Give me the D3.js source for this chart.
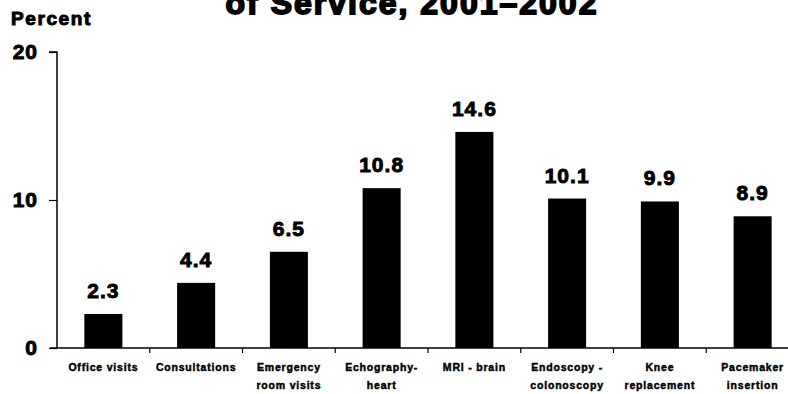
<!DOCTYPE html>
<html>
<head>
<meta charset="utf-8">
<script src="https://cdn.jsdelivr.net/npm/d3@7"></script>
<style>
  body { margin: 0; background: #fff; }
  svg { display: block; }
  text { font-family: "Liberation Sans", Arial, sans-serif; font-weight: bold; fill: #000; }
</style>
</head>
<body>
<script>
// Percent change by type of service
const categories = [
  ["Office visits"],
  ["Consultations"],
  ["Emergency", "room visits"],
  ["Echography-", "heart"],
  ["MRI - brain"],
  ["Endoscopy -", "colonoscopy"],
  ["Knee", "replacement"],
  ["Pacemaker", "insertion"]
];
const values = [2.3, 4.4, 6.5, 10.8, 14.6, 10.1, 9.9, 8.9];
const yTicks = [0, 10, 20];
const titleText = "of Service, 2001\u20132002";
const yLabel = "Percent";

const W = 788, H = 394;
const svg = d3.select("body").append("svg").attr("width", W).attr("height", H);

const x = d3.scaleBand()
  .domain(d3.range(categories.length))
  .range([57, 799])
  .paddingInner(0.59)
  .paddingOuter(0.295);
const y = d3.scaleLinear().domain([0, 20]).range([348, 52]);

// Title (continuation line)
svg.append("text")
  .attr("x", 412).attr("y", 14)
  .attr("text-anchor", "middle")
  .style("font-size", "32px")
  .style("letter-spacing", "2px")
  .style("stroke", "#000").style("stroke-width", "1.8px")
  .text(titleText);

svg.append("text")
  .attr("x", 11).attr("y", 25)
  .style("font-size", "19px")
  .style("letter-spacing", "1.6px")
  .style("stroke", "#000").style("stroke-width", "1px")
  .text(yLabel);

// Y axis
const yAxis = svg.append("g")
  .attr("transform", "translate(57,0)")
  .call(d3.axisLeft(y).tickValues(yTicks).tickSize(8).tickPadding(11).tickFormat(d3.format("d")));
yAxis.select(".domain").attr("d", `M-8,${y(20)}H0V${y(0)}`).attr("stroke", "#000").attr("stroke-width", 1.5);
yAxis.selectAll(".tick line").attr("stroke", "#000").attr("stroke-width", 1.2);
yAxis.selectAll(".tick text")
  .style("font-size", "21px")
  .style("letter-spacing", "1px")
  .style("font-family", "'Liberation Sans', Arial, sans-serif")
  .style("stroke", "#000").style("stroke-width", "0.9px");

// X axis with ticks between categories
const xAxisG = svg.append("g").attr("transform", `translate(0,${y(0)})`);
xAxisG.append("line")
  .attr("x1", 50).attr("x2", W)
  .attr("y1", 0).attr("y2", 0)
  .attr("stroke", "#000").attr("stroke-width", 1.5);
const step = x.step();
xAxisG.selectAll("line.tk").data(d3.range(1, categories.length)).join("line")
  .attr("class", "tk")
  .attr("x1", i => x(i) + x.bandwidth() / 2 - step / 2)
  .attr("x2", i => x(i) + x.bandwidth() / 2 - step / 2)
  .attr("y1", 0).attr("y2", 5)
  .attr("stroke", "#000").attr("stroke-width", 1.2);

// Bars
svg.selectAll("rect.bar").data(values).join("rect")
  .attr("class", "bar")
  .attr("x", (d, i) => x(i))
  .attr("width", x.bandwidth())
  .attr("y", d => y(d))
  .attr("height", d => y(0) - y(d))
  .attr("fill", "#000");

// Value labels
svg.selectAll("text.val").data(values).join("text")
  .attr("class", "val")
  .attr("x", (d, i) => x(i) + x.bandwidth() / 2)
  .attr("y", d => y(d) - 16)
  .attr("text-anchor", "middle")
  .style("font-size", "21px")
  .style("letter-spacing", "1px")
  .style("stroke", "#000").style("stroke-width", "0.9px")
  .text(d => d3.format(".1f")(d));

// Category labels
const cat = svg.selectAll("text.cat").data(categories).join("text")
  .attr("class", "cat")
  .attr("text-anchor", "middle")
  .attr("transform", (d, i) => `translate(${x(i) + x.bandwidth() / 2},${y(0) + 23})`)
  .style("font-size", "10.5px")
  .style("stroke", "#000").style("stroke-width", "0.45px")
  .style("letter-spacing", "0.8px");
cat.selectAll("tspan").data(d => d).join("tspan")
  .attr("x", 0)
  .attr("dy", (d, j) => j === 0 ? 0 : 18)
  .text(d => d);
</script>
</body>
</html>
